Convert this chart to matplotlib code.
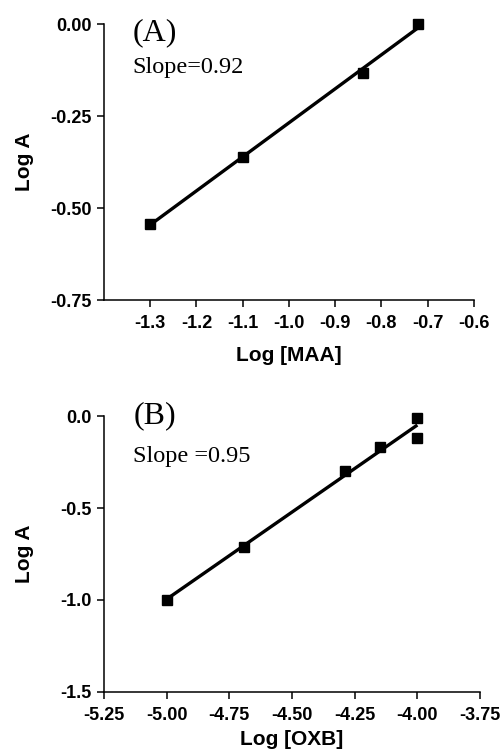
import numpy as np
import matplotlib
matplotlib.use('Agg')
import matplotlib.pyplot as plt

plt.rcParams.update({'font.family': 'Liberation Sans', 'font.weight': 'bold'})

# panel A: Log [MAA] vs Log A
maa_x = [-1.30, -1.10, -0.84, -0.72]
maa_y = [-0.543, -0.361, -0.133, 0.0]
maa_slope = 'Slope=0.92'

# panel B: Log [OXB] vs Log A
oxb_x = [-5.00, -4.69, -4.29, -4.15, -4.00, -4.00]
oxb_y = [-1.00, -0.71, -0.30, -0.17, -0.01, -0.12]
oxb_slope = 'Slope =0.95'

fig = plt.figure(figsize=(5.03, 7.52), dpi=100)
axA = fig.add_axes([0.2068, 0.601, 0.735, 0.367])
axB = fig.add_axes([0.2068, 0.0798, 0.7475, 0.367])


def style(ax):
    for s in ['top', 'right']:
        ax.spines[s].set_visible(False)
    for s in ['left', 'bottom']:
        ax.spines[s].set_linewidth(1.1)
    ax.tick_params(direction='out', length=5, width=1.1, pad=4, labelsize=13)
    ax.tick_params(axis='x', pad=6)
    for lab in ax.get_xticklabels() + ax.get_yticklabels():
        lab.set_fontweight('bold')


def panel(ax, x, y, label, slope_txt, y_lab, y_slope):
    x = np.array(x)
    y = np.array(y)
    k, b = np.polyfit(x, y, 1)
    xx = np.array([x.min(), x.max()])
    ax.plot(xx, k * xx + b, color='black', lw=2.4, solid_capstyle='butt')
    ax.plot(x, y, 's', color='black', ms=7.5, clip_on=False)
    ax.text(0.078, y_lab, label, transform=ax.transAxes, family='Liberation Serif',
            fontweight='normal', fontsize=23, va='baseline', ha='left')
    ax.text(0.078, y_slope, slope_txt, transform=ax.transAxes, family='Liberation Serif',
            fontweight='normal', fontsize=17.5, va='baseline', ha='left')


panel(axA, maa_x, maa_y, '(A)', maa_slope, 0.942, 0.822)
axA.set_xlim(-1.4, -0.6)
axA.set_ylim(-0.75, 0.0)
axA.set_xticks(np.arange(-1.3, -0.55, 0.1))
axA.set_xticklabels(['-1.3', '-1.2', '-1.1', '-1.0', '-0.9', '-0.8', '-0.7', '-0.6'])
axA.set_yticks([0.0, -0.25, -0.5, -0.75])
axA.set_yticklabels(['0.00', '-0.25', '-0.50', '-0.75'])
axA.set_xlabel('Log [MAA]', fontsize=15, fontweight='bold', va='top')
axA.set_ylabel('Log A', fontsize=15, fontweight='bold')
axA.xaxis.set_label_coords(0.5, -0.167)
axA.yaxis.set_label_coords(-0.19, 0.5)
style(axA)

panel(axB, oxb_x, oxb_y, '(B)', oxb_slope, 0.975, 0.833)
axB.set_xlim(-5.25, -3.75)
axB.set_ylim(-1.5, 0.0)
axB.set_xticks([-5.25, -5.0, -4.75, -4.5, -4.25, -4.0, -3.75])
axB.set_xticklabels(['-5.25', '-5.00', '-4.75', '-4.50', '-4.25', '-4.00', '-3.75'])
axB.set_yticks([0.0, -0.5, -1.0, -1.5])
axB.set_yticklabels(['0.0', '-0.5', '-1.0', '-1.5'])
axB.set_xlabel('Log [OXB]', fontsize=15, fontweight='bold', va='top')
axB.set_ylabel('Log A', fontsize=15, fontweight='bold')
axB.xaxis.set_label_coords(0.5, -0.138)
axB.yaxis.set_label_coords(-0.187, 0.5)
style(axB)

fig.savefig('out.png', dpi=100)
